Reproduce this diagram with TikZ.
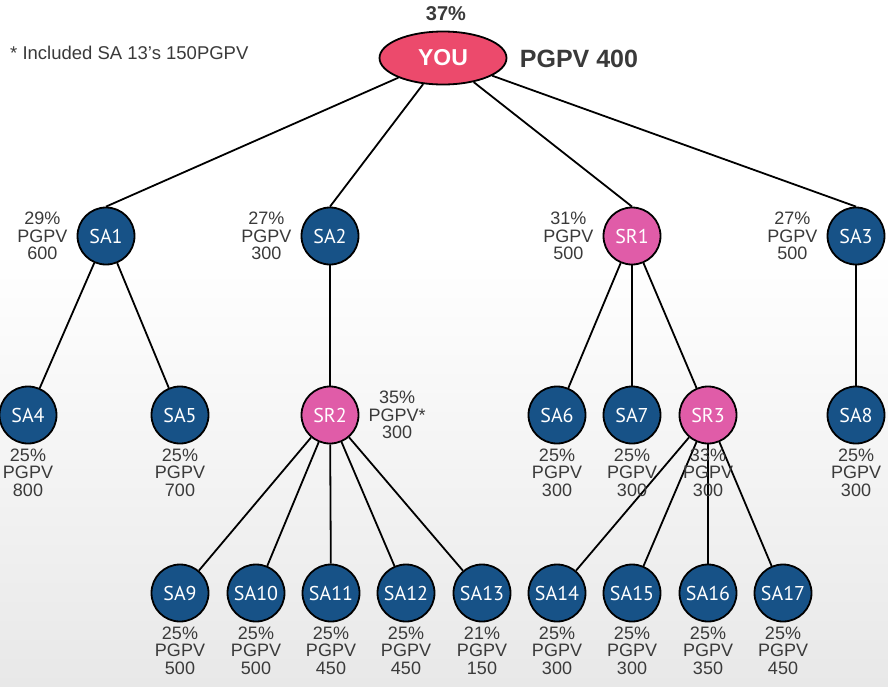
\documentclass[tikz,border=0pt]{standalone}
\usepackage{fontspec}
\setmainfont{Liberation Sans}
\newfontfamily\nodefont{PT Sans}
\usetikzlibrary{positioning,shapes.geometric}

\definecolor{sablue}{HTML}{175287}
\definecolor{srpink}{HTML}{E05CA8}
\definecolor{youred}{HTML}{EC4A6C}
\definecolor{txtgray}{HTML}{3A3A3A}

\tikzset{
  member/.style={circle, draw=black, line width=1.8pt, minimum size=57pt, inner sep=0pt,
    text=white, font=\nodefont\fontsize{20}{20}\selectfont},
  sa/.style={member, fill=sablue},
  sr/.style={member, fill=srpink},
  info/.style={align=center, text=txtgray, inner sep=1pt, font=\fontsize{18}{17.5}\selectfont},
  link/.style={line width=1.8pt}
}

\begin{document}
\begin{tikzpicture}[x=1pt,y=-1pt]
            % background
            \fill[white] (0,0) rectangle (888,686);
            \shade[top color=white, bottom color=black!9] (0,250) rectangle (888,686);
            \useasboundingbox (0,0) rectangle (888,686);

            % top
            \node[ellipse, draw=black, line width=1.8pt, fill=youred, minimum width=127pt, minimum height=53pt,
                  inner sep=0pt, text=white, font=\bfseries\fontsize{23}{23}\selectfont] (you) at (443,58) {YOU};
            \node[text=txtgray, font=\bfseries\fontsize{20}{20}\selectfont] (you-pct) at (446,14) {37\%};
            \node[text=txtgray, font=\bfseries\fontsize{25}{25}\selectfont] (you-pgpv) at (579,59) {PGPV 400};
            \node[anchor=west, text=txtgray, inner sep=0pt, font=\fontsize{18.5}{18.5}\selectfont] (note) at (10,53) {* Included SA 13's 150PGPV};

            % first level
            \node[sa] (sa1) at (106,236) {SA1};
            \node[sa] (sa2) at (330,236) {SA2};
            \node[sr] (sr1) at (632,236) {SR1};
            \node[sa] (sa3) at (856,236) {SA3};
            \foreach \c in {sa1,sa2,sr1,sa3} {
                \draw[link] (you) -- (\c.north);
            }

            % second level
            \node[sa] (sa4) at (28,415) {SA4};
            \node[sa] (sa5) at (180,415) {SA5};
            \node[sr] (sr2) at (330,415) {SR2};
            \node[sa] (sa6) at (557,415) {SA6};
            \node[sa] (sa7) at (632,415) {SA7};
            \node[sr] (sr3) at (708,415) {SR3};
            \node[sa] (sa8) at (856,415) {SA8};
            \foreach \p/\c in {sa1/sa4,sa1/sa5,sa2/sr2,sr1/sa6,sr1/sa7,sr1/sr3,sa3/sa8} {
                \draw[link] (\p) -- (\c);
            }

            % third level
            \foreach \n/\x/\up/\pc/\v in {9/180/sr2/25/500, 10/256/sr2/25/500, 11/331/sr2/25/450,
                                          12/406/sr2/25/450, 13/482/sr2/21/150, 14/557/sr3/25/300,
                                          15/632/sr3/25/300, 16/708/sr3/25/350, 17/783/sr3/25/450} {
                \node[sa] (sa\n) at (\x,593) {SA\n};
                \draw[link] (\up) -- (sa\n);
                \node[info, below=3pt of sa\n] (sa\n-i) {\pc\%\\PGPV\\\v};
            }

            % labels
            \node[info, left=8pt of sa1] (sa1-i) {29\%\\PGPV\\600};
            \node[info, left=8pt of sa2] (sa2-i) {27\%\\PGPV\\300};
            \node[info, left=8pt of sr1] (sr1-i) {31\%\\PGPV\\500};
            \node[info, left=8pt of sa3] (sa3-i) {27\%\\PGPV\\500};
            \node[info, below=3pt of sa4] (sa4-i) {25\%\\PGPV\\800};
            \node[info, below=3pt of sa5] (sa5-i) {25\%\\PGPV\\700};
            \node[info, right=8pt of sr2] (sr2-i) {35\%\\PGPV*\\300};
            \node[info, below=3pt of sa6] (sa6-i) {25\%\\PGPV\\300};
            \node[info, below=3pt of sa7] (sa7-i) {25\%\\PGPV\\300};
            \node[info, below=3pt of sr3] (sr3-i) {33\%\\PGPV\\300};
            \node[info, below=3pt of sa8] (sa8-i) {25\%\\PGPV\\300};
        \end{tikzpicture}
\end{document}
